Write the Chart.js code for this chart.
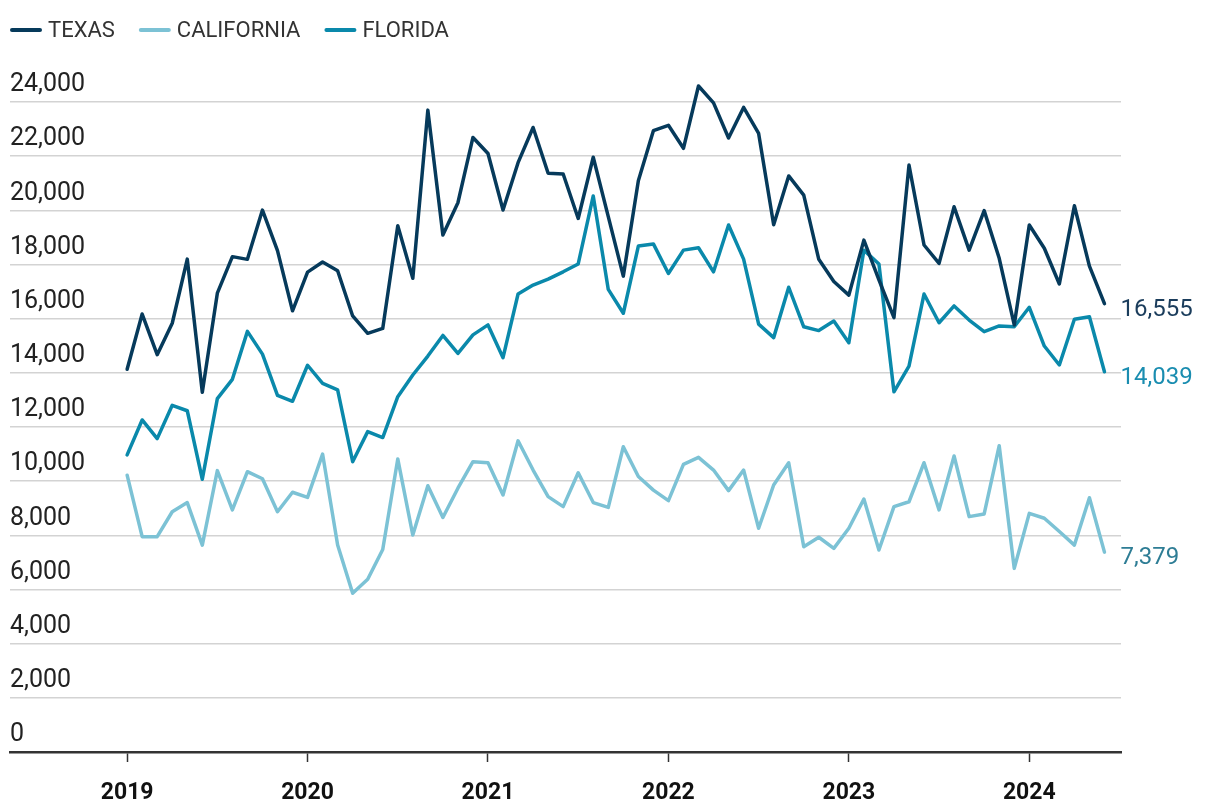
<!DOCTYPE html>
<html><head><meta charset="utf-8">
<script src="https://cdn.jsdelivr.net/npm/chart.js@4/dist/chart.umd.min.js"></script>
<style>html,body{margin:0;padding:0;background:#fff}#wrap{width:1220px;height:812px}</style>
</head><body><div id="wrap"><canvas id="c" width="1220" height="812"></canvas></div>
<script>
const months = [
'2019-01','2019-02','2019-03','2019-04','2019-05','2019-06','2019-07','2019-08','2019-09','2019-10','2019-11','2019-12',
'2020-01','2020-02','2020-03','2020-04','2020-05','2020-06','2020-07','2020-08','2020-09','2020-10','2020-11','2020-12',
'2021-01','2021-02','2021-03','2021-04','2021-05','2021-06','2021-07','2021-08','2021-09','2021-10','2021-11','2021-12',
'2022-01','2022-02','2022-03','2022-04','2022-05','2022-06','2022-07','2022-08','2022-09','2022-10','2022-11','2022-12',
'2023-01','2023-02','2023-03','2023-04','2023-05','2023-06','2023-07','2023-08','2023-09','2023-10','2023-11','2023-12',
'2024-01','2024-02','2024-03','2024-04','2024-05','2024-06'];
const yearLabels = ['2019','2020','2021','2022','2023','2024'];
const yearTickIndex = [0,12,24,36,48,60];
const yTickValues = [0,2000,4000,6000,8000,10000,12000,14000,16000,18000,20000,22000,24000];

const texas = [14130,16170,14670,15830,18200,13280,16940,18290,18190,20010,18510,16290,
17720,18090,17770,16100,15460,15640,19430,17490,23700,19090,20280,22690,
22100,20010,21760,23060,21370,21340,19700,21960,19770,17570,21090,22940,
23140,22290,24590,23970,22670,23800,22840,19470,21270,20560,18190,17370,
16870,18900,17430,16040,21670,18720,18040,20130,18530,19990,18230,15770,
19460,18600,17280,20170,17940,16555];
const california = [10220,7950,7950,8870,9210,7640,10390,8940,10350,10090,8870,9590,
9400,11000,7640,5860,6380,7480,10820,8010,9830,8660,9740,10720,
10680,9490,11490,10410,9430,9060,10310,9210,9030,11270,10170,9670,
9280,10620,10880,10410,9650,10410,8260,9860,10680,7580,7930,7520,
8260,9340,7460,9060,9240,10680,8940,10930,8690,8790,11310,6780,
8810,8630,8140,7640,9390,7379];
const florida = [10970,12260,11570,12800,12600,10070,13050,13760,15530,14690,13170,12950,
14280,13610,13370,10720,11830,11610,13120,13920,14620,15380,14720,15400,
15770,14560,16910,17240,17460,17730,18020,20530,17080,16200,18680,18760,
17670,18530,18620,17730,19460,18200,15800,15300,17160,15700,15560,15910,
15110,18530,18020,13300,14250,16910,15850,16470,15950,15520,15730,15700,
16420,14990,14290,15980,16070,14039];

const toPoints = arr => arr.map((v,i)=>({x:i,y:v}));

const decor = {
  id:'decor',
  afterDatasetsDraw(chart){
    const ctx = chart.ctx;
    chart.data.datasets.forEach((ds,i)=>{
      const meta = chart.getDatasetMeta(i);
      const pt = meta.data[meta.data.length-1];
      const v = ds.data[ds.data.length-1].y;
      ctx.save();
      ctx.font = '400 24px Roboto';
      ctx.fillStyle = ds.endLabelColor;
      ctx.textBaseline = 'middle';
      ctx.textAlign = 'left';
      ctx.fillText(v.toLocaleString('en-US'), pt.x + 16, pt.y + 6);
      ctx.restore();
    });
    ctx.save();
    let x = 10; const y = 30;
    ctx.font = '22px Roboto';
    chart.data.datasets.forEach(ds=>{
      ctx.strokeStyle = ds.borderColor; ctx.lineWidth = 4; ctx.lineCap = 'round';
      ctx.beginPath(); ctx.moveTo(x+2,y); ctx.lineTo(x+30,y); ctx.stroke();
      ctx.fillStyle = '#333'; ctx.textBaseline = 'middle'; ctx.textAlign='left';
      ctx.fillText(ds.label, x+38, y+1);
      x += 38 + ctx.measureText(ds.label).width + 24;
    });
    ctx.restore();
  }
};

Chart.defaults.font.family = 'Roboto';
new Chart(document.getElementById('c'), {
  type:'line',
  data:{
    datasets:[
      {label:'TEXAS', data:toPoints(texas), borderColor:'#063a5b', endLabelColor:'#1b3d5c'},
      {label:'CALIFORNIA', data:toPoints(california), borderColor:'#7cc2d5', endLabelColor:'#2e7d95'},
      {label:'FLORIDA', data:toPoints(florida), borderColor:'#0a89ab', endLabelColor:'#1a8db0'}
    ].map(d=>Object.assign(d,{borderWidth:3.5, pointRadius:0, fill:false, tension:0, clip:false, borderJoinStyle:'round', borderCapStyle:'round'}))
  },
  options:{
    responsive:false, animation:false, devicePixelRatio:1,
    layout:{padding:{left:10, right:99, top:102, bottom:0}},
    plugins:{legend:{display:false}, tooltip:{enabled:false}},
    scales:{
      x:{type:'linear', min:-7.79, max:66.1,
        afterBuildTicks: s => { s.ticks = yearTickIndex.map(v=>({value:v})); },
        afterFit: s => { s.height = 60; },
        ticks:{callback:(v)=>yearLabels[yearTickIndex.indexOf(v)], font:{size:23, weight:'bold'}, color:'#111', padding:17, maxRotation:0, autoSkip:false},
        grid:{drawOnChartArea:false, drawTicks:true, tickLength:10, tickColor:'#333', tickWidth:1.5},
        border:{display:true, color:'#333', width:2.5}
      },
      y:{min:0, max:24000,
        afterBuildTicks: s => { s.ticks = yTickValues.map(v=>({value:v})); },
        ticks:{mirror:true, padding:0, labelOffset:-17, font:{size:25}, color:'#222', callback:v=>v.toLocaleString('en-US')},
        grid:{color:'#d3d3d3', lineWidth:1.5, drawTicks:false},
        border:{display:false}
      }
    }
  },
  plugins:[decor]
});
</script></body></html>
